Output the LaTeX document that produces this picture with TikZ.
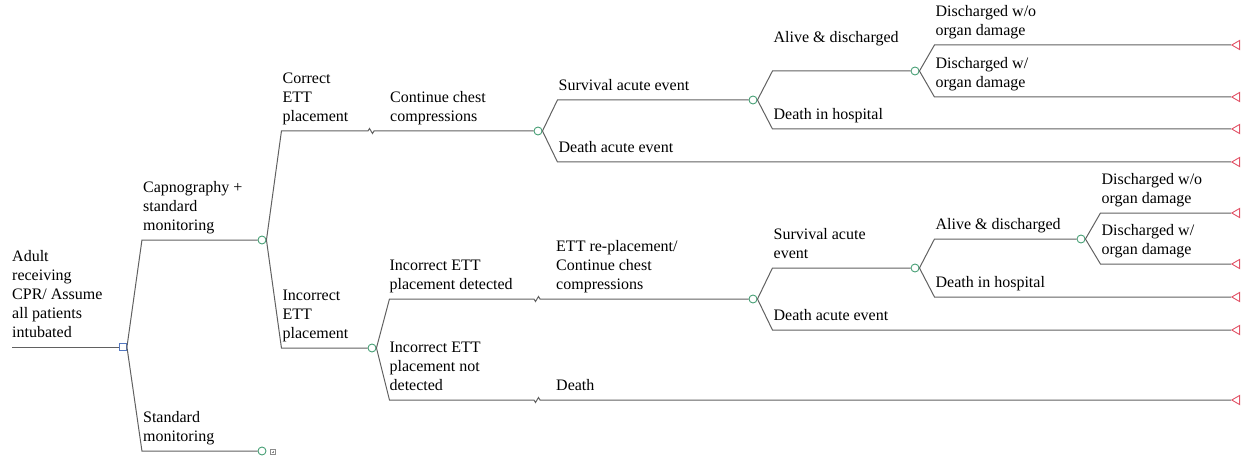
\documentclass[tikz,border=0pt]{standalone}
\usepackage{fontspec}
\setmainfont{Liberation Serif}
\usetikzlibrary{shapes.geometric}
\definecolor{chancegreen}{RGB}{72,160,118}
\definecolor{decisionblue}{RGB}{84,120,192}
\definecolor{terminalred}{RGB}{226,84,104}

\begin{document}
\begin{tikzpicture}[x=1pt,y=-1pt]
	\tikzstyle{branch}=[draw,black!62,line width=1pt]
	\tikzstyle{chance}=[circle,draw=chancegreen,fill=white,line width=0.9pt,inner sep=0pt,minimum size=8pt]
	\tikzstyle{decision}=[rectangle,draw=decisionblue,fill=white,line width=0.9pt,inner sep=0pt,minimum size=7pt]
	\tikzstyle{terminal}=[regular polygon,regular polygon sides=3,shape border rotate=90,draw=terminalred,fill=white,line width=0.9pt,inner sep=0pt,minimum size=10.5pt]
	\tikzstyle{collapsed}=[rectangle,draw=black!45,line width=0.6pt,inner sep=0pt,minimum size=5.5pt]
	\tikzstyle{bname}=[anchor=south west,inner sep=0pt,align=left,yshift=3.3pt,font=\fontsize{16}{19}\selectfont,execute at end node=\strut]

	\useasboundingbox (0,0) rectangle (1244,457);

	% nodes
	\coordinate (in) at (12,347);
	\node[decision] (d0) at (123,347) {};
	\node[chance] (c1) at (262,240) {};
	\node[chance] (c2) at (262,451) {};
	\node[collapsed] (m1) at (273,452) {};
	\node[chance] (c3) at (372,348) {};
	\node[chance] (c4) at (538,131) {};
	\node[chance] (c5) at (753,100) {};
	\node[chance] (c6) at (915,71) {};
	\node[chance] (c7) at (753,299) {};
	\node[chance] (c8) at (915,268) {};
	\node[chance] (c9) at (1081,239) {};

	\coordinate (b1) at (372,131);
	\coordinate (b2) at (538,299);
	\coordinate (b3) at (538,400);

	\node[terminal] (t1) at (1237,45) {};
	\node[terminal] (t2) at (1237,97) {};
	\node[terminal] (t3) at (1237,129) {};
	\node[terminal] (t4) at (1237,162) {};
	\node[terminal] (t5) at (1237,213) {};
	\node[terminal] (t6) at (1237,264) {};
	\node[terminal] (t7) at (1237,297) {};
	\node[terminal] (t8) at (1237,330) {};
	\node[terminal] (t9) at (1237,400) {};

	\draw[black!45,line width=0.6pt] ([yshift=-1.6pt]m1.north) -- ([yshift=1.6pt]m1.south)
		([xshift=1.6pt]m1.west) -- ([xshift=-1.6pt]m1.east);

	% branches
	\draw[branch] (in) -- (d0);
	\draw[branch] (d0.east) -- ([xshift=15pt]d0.east |- c1) -- (c1);
	\draw[branch] (d0.east) -- ([xshift=15pt]d0.east |- c2) -- (c2);

	\draw[branch] (c1.east) -- ([xshift=15pt]c1.east |- c4) -- ([xshift=-4pt]b1) -- ++(1.5,-2.5) -- ++(3,5) -- ++(1.5,-2.5) -- (c4);
	\draw[branch] (c1.east) -- ([xshift=15pt]c1.east |- c3) -- (c3);

	\draw[branch] (c3.east) -- ([xshift=13pt]c3.east |- c7) -- ([xshift=-4pt]b2) -- ++(1.5,2.5) -- ++(3,-5) -- ++(1.5,2.5) -- (c7);
	\draw[branch] (c3.east) -- ([xshift=13pt]c3.east |- t9) -- ([xshift=-4pt]b3) -- ++(1.5,2.5) -- ++(3,-5) -- ++(1.5,2.5) -- (t9);

	\draw[branch] (c4.east) -- ([xshift=15pt]c4.east |- c5) -- (c5);
	\draw[branch] (c4.east) -- ([xshift=15pt]c4.east |- t4) -- (t4);
	\draw[branch] (c5.east) -- ([xshift=15pt]c5.east |- c6) -- (c6);
	\draw[branch] (c5.east) -- ([xshift=15pt]c5.east |- t3) -- (t3);
	\draw[branch] (c6.east) -- ([xshift=15pt]c6.east |- t1) -- (t1);
	\draw[branch] (c6.east) -- ([xshift=15pt]c6.east |- t2) -- (t2);

	\draw[branch] (c7.east) -- ([xshift=15pt]c7.east |- c8) -- (c8);
	\draw[branch] (c7.east) -- ([xshift=15pt]c7.east |- t8) -- (t8);
	\draw[branch] (c8.east) -- ([xshift=15pt]c8.east |- c9) -- (c9);
	\draw[branch] (c8.east) -- ([xshift=15pt]c8.east |- t7) -- (t7);
	\draw[branch] (c9.east) -- ([xshift=15pt]c9.east |- t5) -- (t5);
	\draw[branch] (c9.east) -- ([xshift=15pt]c9.east |- t6) -- (t6);

	% branch names
	\node[bname] (n0) at (in) {Adult\\receiving\\CPR/ Assume\\all patients\\intubated};
	\node[bname] (n1) at ([xshift=16pt]d0.east |- c1) {Capnography +\\standard\\monitoring};
	\node[bname] (n2) at ([xshift=16pt]d0.east |- c2) {Standard\\monitoring};
	\node[bname] (n3) at ([xshift=16pt]c1.east |- c4) {Correct\\ETT\\placement};
	\node[bname] (n4) at ([xshift=16pt]c1.east |- c3) {Incorrect\\ETT\\placement};
	\node[bname] (n5) at ([xshift=18pt]b1) {Continue chest\\compressions};
	\node[bname] (n6) at ([xshift=13pt]c3.east |- c7) {Incorrect ETT\\placement detected};
	\node[bname] (n7) at ([xshift=13pt]c3.east |- t9) {Incorrect ETT\\placement not\\detected};
	\node[bname] (n8) at ([xshift=18pt]b2) {ETT re-placement/\\Continue chest\\compressions};
	\node[bname] (n9) at ([xshift=18pt]b3) {Death};
	\node[bname] (n10) at ([xshift=16pt]c4.east |- c5) {Survival acute event};
	\node[bname] (n11) at ([xshift=16pt]c4.east |- t4) {Death acute event};
	\node[bname,yshift=19pt] (n12) at ([xshift=16pt]c5.east |- c6) {Alive \& discharged};
	\node[bname] (n13) at ([xshift=16pt]c5.east |- t3) {Death in hospital};
	\node[bname] (n14) at ([xshift=16pt]c6.east |- t1) {Discharged w/o\\organ damage};
	\node[bname] (n15) at ([xshift=16pt]c6.east |- t2) {Discharged w/\\organ damage};
	\node[bname] (n16) at ([xshift=16pt]c7.east |- c8) {Survival acute\\event};
	\node[bname] (n17) at ([xshift=16pt]c7.east |- t8) {Death acute event};
	\node[bname] (n18) at ([xshift=16pt]c8.east |- c9) {Alive \& discharged};
	\node[bname] (n19) at ([xshift=16pt]c8.east |- t7) {Death in hospital};
	\node[bname] (n20) at ([xshift=16pt]c9.east |- t5) {Discharged w/o\\organ damage};
	\node[bname] (n21) at ([xshift=16pt]c9.east |- t6) {Discharged w/\\organ damage};
\end{tikzpicture}
\end{document}
